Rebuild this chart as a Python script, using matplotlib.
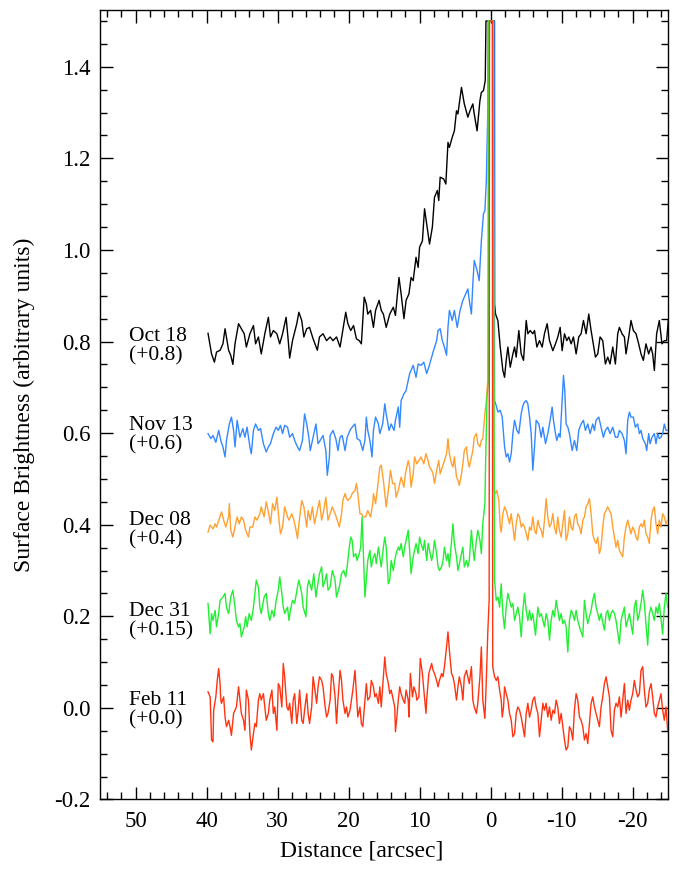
"""Surface-brightness profiles across the source, five epochs, offset vertically."""
import numpy as np
import matplotlib
matplotlib.use("Agg")
import matplotlib.pyplot as plt
from matplotlib.ticker import MultipleLocator

plt.rcParams["font.family"] = ["Liberation Serif", "DejaVu Serif"]
plt.rcParams["axes.unicode_minus"] = False

# (distance [arcsec], surface brightness incl. offset)
OCT18 = [(39.8, 0.818), (39.3, 0.773), (38.9, 0.755), (38.6, 0.777), (38.1, 0.781), (37.7, 0.795),
         (37.4, 0.828), (36.9, 0.781), (36.6, 0.770), (36.3, 0.750), (36.0, 0.795), (35.5, 0.839),
         (35.1, 0.828), (34.7, 0.817), (34.4, 0.788), (33.9, 0.817), (33.4, 0.835), (33.1, 0.795),
         (32.7, 0.810), (32.3, 0.773), (31.8, 0.817), (31.3, 0.853), (31.0, 0.810), (30.6, 0.824),
         (30.1, 0.817), (29.7, 0.795), (29.3, 0.817), (28.8, 0.853), (28.5, 0.802), (28.3, 0.764),
         (27.9, 0.802), (27.3, 0.839), (27.0, 0.864), (26.6, 0.846), (26.3, 0.810), (25.9, 0.828),
         (25.5, 0.831), (25.0, 0.806), (24.4, 0.781), (24.1, 0.810), (23.6, 0.817), (23.1, 0.802),
         (22.6, 0.810), (22.2, 0.802), (21.7, 0.810), (21.2, 0.788), (20.9, 0.817), (20.4, 0.864),
         (20.1, 0.839), (19.7, 0.824), (19.3, 0.835), (18.9, 0.806), (18.5, 0.802), (18.2, 0.795),
         (17.8, 0.897), (17.5, 0.882), (17.3, 0.860), (16.9, 0.868), (16.5, 0.831), (16.2, 0.868),
         (15.7, 0.890), (15.4, 0.868), (15.1, 0.860), (14.7, 0.831), (14.2, 0.860), (13.7, 0.875),
         (13.4, 0.857), (12.9, 0.940), (12.6, 0.904), (12.2, 0.850), (11.9, 0.890), (11.5, 0.904),
         (11.2, 0.940), (10.9, 0.933), (10.5, 0.984), (10.2, 0.962), (10.0, 1.006), (9.6, 1.020),
         (9.3, 1.090), (9.0, 1.057), (8.6, 1.013), (8.2, 1.050), (7.9, 1.115), (7.5, 1.130),
         (7.3, 1.108), (7.1, 1.159), (6.6, 1.155), (6.3, 1.144), (6.0, 1.235), (5.8, 1.224),
         (5.4, 1.246), (5.1, 1.260), (4.8, 1.304), (4.6, 1.297), (4.1, 1.355), (3.7, 1.319),
         (3.2, 1.290), (2.9, 1.304), (2.5, 1.319), (2.3, 1.297), (1.9, 1.260), (1.5, 1.326),
         (1.3, 1.344), (1.0, 1.348), (0.75, 1.370), (0.65, 1.5), (-0.55, 1.5), (-0.56, 0.882),
         (-0.70, 0.860), (-1.03, 0.846), (-1.36, 0.788), (-1.73, 0.737), (-1.97, 0.722), (-2.20, 0.759),
         (-2.44, 0.788), (-2.77, 0.744), (-3.14, 0.773), (-3.38, 0.788), (-3.61, 0.766), (-3.98, 0.824),
         (-4.31, 0.773), (-4.64, 0.759), (-5.02, 0.846), (-5.25, 0.817), (-5.58, 0.824), (-5.95, 0.817),
         (-6.19, 0.824), (-6.52, 0.788), (-6.89, 0.802), (-7.27, 0.788), (-7.59, 0.817), (-7.97, 0.839),
         (-8.30, 0.802), (-8.77, 0.780), (-9.14, 0.795), (-9.47, 0.810), (-9.80, 0.831), (-10.08, 0.780),
         (-10.41, 0.817), (-10.74, 0.802), (-11.02, 0.810), (-11.35, 0.795), (-11.67, 0.810),
         (-12.05, 0.773), (-12.42, 0.810), (-12.75, 0.817), (-13.08, 0.846), (-13.46, 0.817),
         (-13.83, 0.860), (-14.16, 0.824), (-14.39, 0.802), (-14.77, 0.766), (-15.10, 0.773),
         (-15.42, 0.810), (-15.80, 0.802), (-16.17, 0.751), (-16.50, 0.766), (-16.83, 0.751),
         (-17.21, 0.788), (-17.58, 0.751), (-17.91, 0.817), (-18.14, 0.831), (-18.52, 0.817),
         (-18.85, 0.810), (-19.08, 0.773), (-19.46, 0.810), (-19.78, 0.846), (-20.11, 0.824),
         (-20.49, 0.817), (-20.86, 0.795), (-21.19, 0.773), (-21.52, 0.759), (-21.89, 0.795),
         (-22.27, 0.773), (-22.60, 0.788), (-22.83, 0.773), (-23.07, 0.737), (-23.39, 0.817),
         (-23.77, 0.846), (-24.14, 0.795), (-24.47, 0.802), (-24.80, 0.802), (-25.03, 0.846)]

NOV13 = [(39.8, 0.599), (39.4, 0.588), (39.1, 0.595), (38.7, 0.580), (38.3, 0.606), (38.0, 0.584),
         (37.7, 0.570), (37.4, 0.548), (37.2, 0.584), (36.8, 0.620), (36.5, 0.635), (36.2, 0.606),
         (36.0, 0.570), (35.7, 0.628), (35.3, 0.591), (34.9, 0.610), (34.6, 0.591), (34.3, 0.613),
         (33.9, 0.570), (33.7, 0.555), (33.4, 0.606), (33.1, 0.620), (32.7, 0.606), (32.4, 0.610),
         (32.0, 0.577), (31.6, 0.559), (31.3, 0.570), (31.0, 0.577), (30.6, 0.599), (30.2, 0.613),
         (29.9, 0.606), (29.6, 0.617), (29.3, 0.599), (29.0, 0.617), (28.6, 0.613), (28.3, 0.591),
         (27.9, 0.599), (27.6, 0.584), (27.2, 0.570), (26.9, 0.562), (26.5, 0.584), (26.2, 0.642),
         (25.9, 0.620), (25.6, 0.591), (25.4, 0.562), (25.0, 0.591), (24.6, 0.620), (24.3, 0.577),
         (24.0, 0.584), (23.6, 0.595), (23.2, 0.562), (23.0, 0.508), (22.7, 0.548), (22.6, 0.595),
         (22.2, 0.606), (21.8, 0.588), (21.5, 0.562), (21.2, 0.591), (20.9, 0.595), (20.5, 0.562),
         (20.2, 0.591), (19.8, 0.606), (19.5, 0.613), (19.1, 0.620), (18.8, 0.588), (18.4, 0.584),
         (18.0, 0.562), (17.7, 0.584), (17.5, 0.635), (17.3, 0.606), (17.0, 0.584), (16.7, 0.548),
         (16.5, 0.606), (16.2, 0.635), (15.8, 0.620), (15.6, 0.599), (15.2, 0.620), (14.9, 0.664),
         (14.7, 0.642), (14.3, 0.606), (14.0, 0.620), (13.6, 0.606), (13.4, 0.628), (13.0, 0.657),
         (12.8, 0.613), (12.6, 0.671), (12.2, 0.686), (11.9, 0.693), (11.6, 0.715), (11.4, 0.730),
         (10.9, 0.748), (10.5, 0.722), (10.2, 0.751), (9.8, 0.748), (9.4, 0.755), (9.0, 0.730),
         (8.7, 0.744), (8.3, 0.766), (8.1, 0.777), (7.6, 0.802), (7.4, 0.824), (7.1, 0.828),
         (6.8, 0.802), (6.5, 0.788), (6.2, 0.770), (6.0, 0.831), (5.8, 0.868), (5.4, 0.846),
         (5.1, 0.868), (4.7, 0.831), (4.5, 0.850), (4.3, 0.868), (3.9, 0.890), (3.5, 0.904),
         (3.2, 0.915), (3.0, 0.890), (2.7, 0.860), (2.5, 0.926), (2.3, 0.977), (1.9, 0.955),
         (1.6, 0.933), (1.3, 1.020), (1.0, 1.079), (0.8, 1.086), (0.6, 1.151), (0.4, 1.297),
         (0.35, 1.5), (-0.5, 1.5), (-0.56, 0.671), (-0.80, 0.660), (-1.03, 0.646), (-1.36, 0.650),
         (-1.64, 0.635), (-1.97, 0.570), (-2.20, 0.548), (-2.44, 0.555), (-2.67, 0.537), (-2.91, 0.555),
         (-3.14, 0.599), (-3.38, 0.628), (-3.70, 0.606), (-3.98, 0.599), (-4.31, 0.642), (-4.55, 0.660),
         (-4.78, 0.668), (-5.02, 0.671), (-5.25, 0.664), (-5.49, 0.635), (-5.72, 0.599), (-5.95, 0.519),
         (-6.19, 0.570), (-6.42, 0.628), (-6.80, 0.620), (-7.13, 0.591), (-7.36, 0.613), (-7.74, 0.577),
         (-8.06, 0.599), (-8.39, 0.628), (-8.67, 0.657), (-8.86, 0.628), (-9.14, 0.599), (-9.33, 0.584),
         (-9.61, 0.599), (-9.80, 0.591), (-10.08, 0.671), (-10.27, 0.726), (-10.45, 0.693),
         (-10.64, 0.620), (-10.88, 0.613), (-11.11, 0.599), (-11.49, 0.562), (-11.81, 0.584),
         (-12.14, 0.562), (-12.42, 0.606), (-12.75, 0.620), (-13.08, 0.628), (-13.36, 0.606),
         (-13.69, 0.620), (-14.02, 0.599), (-14.39, 0.620), (-14.63, 0.606), (-14.86, 0.628),
         (-15.24, 0.635), (-15.56, 0.613), (-15.89, 0.591), (-16.17, 0.606), (-16.50, 0.613),
         (-16.83, 0.599), (-17.21, 0.613), (-17.58, 0.591), (-17.91, 0.591), (-18.14, 0.606),
         (-18.52, 0.599), (-18.85, 0.584), (-19.08, 0.555), (-19.32, 0.628), (-19.55, 0.646),
         (-19.78, 0.635), (-20.11, 0.635), (-20.39, 0.613), (-20.72, 0.620), (-20.96, 0.599),
         (-21.19, 0.606), (-21.43, 0.588), (-21.80, 0.577), (-21.99, 0.562), (-22.27, 0.599),
         (-22.46, 0.577), (-22.74, 0.591), (-23.07, 0.599), (-23.30, 0.577), (-23.54, 0.599),
         (-23.77, 0.588), (-24.00, 0.591), (-24.24, 0.599), (-24.47, 0.620), (-24.71, 0.606),
         (-24.94, 0.606)]

DEC08 = [(39.8, 0.384), (39.5, 0.399), (39.1, 0.391), (38.8, 0.402), (38.6, 0.395), (38.2, 0.413),
         (37.9, 0.428), (37.6, 0.410), (37.3, 0.395), (36.9, 0.417), (36.8, 0.446), (36.6, 0.388),
         (36.3, 0.373), (36.0, 0.395), (35.7, 0.417), (35.4, 0.402), (35.1, 0.417), (34.8, 0.410),
         (34.5, 0.388), (34.1, 0.373), (33.9, 0.395), (33.5, 0.395), (33.2, 0.417), (32.9, 0.410),
         (32.5, 0.424), (32.3, 0.439), (31.9, 0.417), (31.6, 0.450), (31.3, 0.428), (31.0, 0.402),
         (30.7, 0.446), (30.4, 0.431), (30.1, 0.460), (29.8, 0.410), (29.6, 0.380), (29.3, 0.395),
         (29.0, 0.439), (28.6, 0.417), (28.4, 0.410), (28.0, 0.424), (27.7, 0.410), (27.4, 0.388),
         (27.2, 0.370), (27.0, 0.402), (26.6, 0.453), (26.3, 0.439), (25.9, 0.395), (25.7, 0.431),
         (25.4, 0.410), (25.1, 0.439), (24.8, 0.402), (24.5, 0.424), (24.1, 0.453), (23.8, 0.410),
         (23.5, 0.431), (23.2, 0.460), (22.9, 0.410), (22.6, 0.424), (22.3, 0.439), (21.9, 0.424),
         (21.6, 0.410), (21.3, 0.395), (21.0, 0.424), (20.8, 0.453), (20.5, 0.468), (20.3, 0.457),
         (20.1, 0.453), (19.7, 0.460), (19.5, 0.468), (19.1, 0.475), (18.9, 0.490), (18.7, 0.468),
         (18.4, 0.424), (18.2, 0.424), (17.9, 0.417), (17.6, 0.417), (17.3, 0.431), (16.9, 0.417),
         (16.6, 0.446), (16.5, 0.468), (16.2, 0.446), (15.8, 0.497), (15.6, 0.526), (15.4, 0.530),
         (15.1, 0.497), (14.9, 0.468), (14.7, 0.439), (14.4, 0.475), (14.1, 0.519), (13.8, 0.490),
         (13.5, 0.490), (13.3, 0.460), (13.0, 0.475), (12.8, 0.490), (12.6, 0.504), (12.2, 0.482),
         (12.0, 0.511), (11.6, 0.540), (11.4, 0.526), (11.2, 0.482), (10.9, 0.511), (10.7, 0.548),
         (10.4, 0.533), (10.1, 0.540), (9.8, 0.548), (9.4, 0.533), (9.1, 0.555), (8.8, 0.540),
         (8.6, 0.526), (8.3, 0.519), (8.1, 0.511), (7.9, 0.490), (7.5, 0.526), (7.3, 0.540),
         (7.1, 0.511), (6.8, 0.526), (6.5, 0.540), (6.2, 0.555), (6.0, 0.588), (5.8, 0.555),
         (5.5, 0.533), (5.3, 0.526), (5.1, 0.548), (4.8, 0.504), (4.6, 0.497), (4.4, 0.486),
         (4.1, 0.511), (3.9, 0.533), (3.7, 0.562), (3.4, 0.570), (3.2, 0.540), (3.0, 0.526),
         (2.7, 0.548), (2.5, 0.562), (2.3, 0.591), (2.0, 0.599), (1.8, 0.577), (1.5, 0.570),
         (1.3, 0.584), (1.1, 0.588), (0.8, 0.642), (0.6, 0.671), (0.4, 0.715), (0.3, 1.5),
         (-0.35, 1.5), (-0.5, 0.475), (-0.70, 0.468), (-0.89, 0.475), (-1.17, 0.453), (-1.36, 0.395),
         (-1.50, 0.384), (-1.73, 0.424), (-1.97, 0.439), (-2.20, 0.431), (-2.44, 0.417), (-2.67, 0.402),
         (-2.91, 0.424), (-3.14, 0.395), (-3.38, 0.366), (-3.61, 0.402), (-3.84, 0.424), (-4.08, 0.417),
         (-4.31, 0.395), (-4.55, 0.402), (-4.78, 0.395), (-5.02, 0.380), (-5.25, 0.366), (-5.49, 0.395),
         (-5.72, 0.388), (-5.95, 0.417), (-6.19, 0.388), (-6.42, 0.380), (-6.66, 0.410), (-6.89, 0.395),
         (-7.13, 0.388), (-7.36, 0.373), (-7.59, 0.410), (-7.83, 0.457), (-8.06, 0.417), (-8.30, 0.395),
         (-8.53, 0.402), (-8.77, 0.424), (-9.00, 0.395), (-9.24, 0.380), (-9.47, 0.417), (-9.70, 0.388),
         (-9.94, 0.373), (-10.17, 0.402), (-10.41, 0.431), (-10.64, 0.366), (-10.88, 0.380),
         (-11.11, 0.417), (-11.35, 0.395), (-11.58, 0.388), (-11.81, 0.417), (-12.05, 0.424),
         (-12.28, 0.402), (-12.52, 0.395), (-12.75, 0.380), (-12.99, 0.410), (-13.22, 0.417),
         (-13.46, 0.439), (-13.69, 0.446), (-13.92, 0.457), (-14.16, 0.424), (-14.39, 0.380),
         (-14.63, 0.366), (-14.86, 0.359), (-15.10, 0.373), (-15.33, 0.337), (-15.56, 0.351),
         (-15.80, 0.395), (-16.03, 0.424), (-16.27, 0.431), (-16.50, 0.439), (-16.74, 0.431),
         (-16.97, 0.424), (-17.21, 0.395), (-17.44, 0.373), (-17.67, 0.351), (-17.91, 0.366),
         (-18.14, 0.344), (-18.38, 0.337), (-18.61, 0.330), (-18.85, 0.373), (-19.08, 0.395),
         (-19.32, 0.410), (-19.55, 0.395), (-19.78, 0.380), (-20.02, 0.395), (-20.25, 0.388),
         (-20.49, 0.373), (-20.72, 0.366), (-20.96, 0.395), (-21.19, 0.402), (-21.43, 0.395),
         (-21.66, 0.410), (-21.89, 0.380), (-22.13, 0.373), (-22.36, 0.359), (-22.60, 0.410),
         (-22.83, 0.431), (-23.07, 0.439), (-23.30, 0.402), (-23.54, 0.380), (-23.77, 0.410),
         (-24.00, 0.395), (-24.24, 0.424), (-24.47, 0.417), (-24.71, 0.402), (-24.94, 0.410)]

DEC31 = [(39.8, 0.228), (39.5, 0.162), (39.3, 0.206), (39.1, 0.191), (38.8, 0.213), (38.6, 0.177),
         (38.3, 0.206), (38.1, 0.235), (37.7, 0.242), (37.4, 0.250), (37.2, 0.220), (36.9, 0.206),
         (36.6, 0.242), (36.3, 0.257), (36.0, 0.220), (35.8, 0.191), (35.5, 0.177), (35.3, 0.184),
         (35.1, 0.155), (34.7, 0.177), (34.5, 0.199), (34.3, 0.177), (34.0, 0.206), (33.7, 0.191),
         (33.4, 0.220), (33.2, 0.250), (33.0, 0.279), (32.7, 0.264), (32.5, 0.220), (32.3, 0.206),
         (31.9, 0.242), (31.6, 0.250), (31.3, 0.206), (31.1, 0.191), (30.8, 0.213), (30.5, 0.199),
         (30.2, 0.235), (29.9, 0.257), (29.7, 0.286), (29.4, 0.250), (29.2, 0.220), (29.0, 0.206),
         (28.6, 0.220), (28.4, 0.191), (28.2, 0.213), (27.9, 0.235), (27.6, 0.228), (27.2, 0.264),
         (27.0, 0.279), (26.6, 0.250), (26.4, 0.220), (26.0, 0.199), (25.8, 0.264), (25.6, 0.279),
         (25.2, 0.257), (24.9, 0.293), (24.6, 0.242), (24.4, 0.264), (24.1, 0.293), (23.8, 0.308),
         (23.6, 0.264), (23.3, 0.279), (23.1, 0.293), (22.9, 0.257), (22.6, 0.264), (22.3, 0.300),
         (21.9, 0.279), (21.7, 0.242), (21.3, 0.264), (21.0, 0.293), (20.7, 0.300), (20.4, 0.286),
         (20.2, 0.308), (19.9, 0.351), (19.7, 0.373), (19.5, 0.366), (19.3, 0.330), (19.0, 0.337),
         (18.8, 0.322), (18.5, 0.337), (18.3, 0.351), (18.1, 0.417), (18.0, 0.373), (17.7, 0.242),
         (17.5, 0.279), (17.3, 0.322), (17.0, 0.344), (16.8, 0.308), (16.5, 0.330), (16.3, 0.337),
         (16.1, 0.315), (15.8, 0.351), (15.6, 0.330), (15.4, 0.308), (15.1, 0.351), (14.9, 0.373),
         (14.7, 0.351), (14.4, 0.271), (14.2, 0.279), (14.0, 0.322), (13.7, 0.300), (13.5, 0.322),
         (13.3, 0.337), (13.0, 0.351), (12.8, 0.344), (12.6, 0.359), (12.3, 0.330), (12.1, 0.351),
         (11.9, 0.366), (11.6, 0.388), (11.4, 0.344), (11.2, 0.293), (10.9, 0.330), (10.7, 0.344),
         (10.5, 0.359), (10.2, 0.337), (10.0, 0.373), (9.8, 0.359), (9.5, 0.344), (9.3, 0.366),
         (9.0, 0.322), (8.8, 0.359), (8.6, 0.344), (8.3, 0.322), (8.1, 0.337), (7.9, 0.366),
         (7.6, 0.337), (7.4, 0.308), (7.2, 0.300), (6.9, 0.308), (6.7, 0.322), (6.5, 0.351),
         (6.2, 0.322), (6.0, 0.337), (5.8, 0.308), (5.5, 0.366), (5.3, 0.402), (5.1, 0.359),
         (4.8, 0.330), (4.6, 0.300), (4.4, 0.315), (4.1, 0.337), (3.9, 0.351), (3.7, 0.308),
         (3.4, 0.322), (3.2, 0.308), (3.0, 0.322), (2.7, 0.388), (2.5, 0.351), (2.3, 0.322),
         (2.0, 0.366), (1.8, 0.388), (1.5, 0.366), (1.3, 0.337), (1.1, 0.402), (0.8, 0.446),
         (0.7, 0.533), (0.6, 0.606), (0.5, 0.679), (0.3, 0.715), (0.25, 1.5), (-0.3, 1.5),
         (-0.56, 0.279), (-0.80, 0.235), (-1.03, 0.242), (-1.27, 0.220), (-1.50, 0.271), (-1.73, 0.206),
         (-1.97, 0.173), (-2.20, 0.220), (-2.44, 0.250), (-2.67, 0.235), (-2.91, 0.220), (-3.14, 0.228),
         (-3.38, 0.191), (-3.61, 0.206), (-3.84, 0.220), (-4.08, 0.199), (-4.31, 0.155), (-4.55, 0.213),
         (-4.78, 0.250), (-5.02, 0.213), (-5.25, 0.191), (-5.49, 0.213), (-5.72, 0.191), (-5.95, 0.206),
         (-6.33, 0.159), (-6.66, 0.220), (-6.89, 0.199), (-7.13, 0.206), (-7.36, 0.191), (-7.59, 0.177),
         (-7.83, 0.206), (-8.06, 0.191), (-8.30, 0.148), (-8.53, 0.191), (-8.77, 0.213), (-9.00, 0.199),
         (-9.24, 0.235), (-9.47, 0.213), (-9.70, 0.191), (-9.94, 0.206), (-10.17, 0.184), (-10.41, 0.191),
         (-10.64, 0.177), (-10.88, 0.122), (-11.11, 0.191), (-11.35, 0.213), (-11.58, 0.206),
         (-11.81, 0.191), (-12.05, 0.213), (-12.28, 0.191), (-12.52, 0.177), (-12.99, 0.155),
         (-13.22, 0.235), (-13.46, 0.206), (-13.69, 0.184), (-13.92, 0.199), (-14.16, 0.213),
         (-14.39, 0.235), (-14.63, 0.250), (-14.86, 0.220), (-15.10, 0.206), (-15.33, 0.191),
         (-15.56, 0.206), (-16.03, 0.170), (-16.27, 0.206), (-16.50, 0.213), (-16.74, 0.191),
         (-16.97, 0.206), (-17.21, 0.213), (-17.44, 0.206), (-17.67, 0.191), (-18.14, 0.140),
         (-18.38, 0.191), (-18.61, 0.206), (-18.85, 0.220), (-19.08, 0.177), (-19.32, 0.191),
         (-19.55, 0.206), (-20.02, 0.161), (-20.25, 0.220), (-20.49, 0.235), (-20.72, 0.191),
         (-20.96, 0.206), (-21.19, 0.228), (-21.43, 0.257), (-21.66, 0.228), (-22.13, 0.137),
         (-22.36, 0.206), (-22.60, 0.220), (-22.83, 0.206), (-23.07, 0.191), (-23.30, 0.220),
         (-23.54, 0.206), (-23.77, 0.228), (-24.24, 0.161), (-24.47, 0.220), (-24.71, 0.250),
         (-24.94, 0.220)]

FEB11 = [(39.8, 0.035), (39.5, 0.024), (39.3, -0.070), (39.1, -0.074), (39.0, -0.005), (38.7, 0.024),
         (38.5, 0.060), (38.3, 0.086), (38.1, 0.053), (38.0, 0.017), (37.9, 0.010), (37.6, 0.024),
         (37.4, -0.020), (37.2, -0.041), (36.9, -0.027), (36.7, -0.041), (36.5, -0.060), (36.2, -0.012),
         (36.0, -0.005), (35.8, 0.002), (35.5, 0.046), (35.3, 0.017), (35.1, -0.012), (34.8, -0.027),
         (34.6, -0.049), (34.4, 0.039), (34.1, 0.017), (33.9, -0.056), (33.7, -0.092), (33.4, -0.056),
         (33.2, -0.034), (33.0, -0.041), (32.7, 0.017), (32.5, 0.031), (32.3, 0.017), (32.0, 0.031),
         (31.8, 0.002), (31.6, -0.027), (31.3, -0.012), (31.1, 0.017), (30.8, 0.039), (30.6, -0.012),
         (30.4, 0.002), (30.1, -0.049), (29.9, 0.053), (29.7, 0.046), (29.4, 0.002), (29.2, 0.097),
         (29.0, 0.068), (28.7, 0.002), (28.5, -0.005), (28.3, 0.010), (28.0, -0.034), (27.8, 0.017),
         (27.6, 0.031), (27.3, -0.034), (27.1, -0.005), (26.9, 0.039), (26.6, -0.027), (26.4, -0.034),
         (26.2, -0.005), (25.9, 0.031), (25.7, -0.012), (25.5, -0.034), (25.2, 0.002), (25.0, 0.068),
         (24.8, 0.046), (24.5, 0.010), (24.3, 0.046), (24.1, 0.068), (23.8, 0.060), (23.6, 0.046),
         (23.3, 0.002), (23.1, -0.020), (22.9, -0.012), (22.6, 0.017), (22.4, 0.075), (22.2, 0.068),
         (21.9, 0.024), (21.7, -0.034), (21.5, 0.017), (21.2, 0.082), (21.0, 0.060), (20.8, 0.017),
         (20.5, -0.012), (20.3, 0.002), (20.1, -0.020), (19.8, -0.005), (19.6, 0.017), (19.4, 0.039),
         (19.1, 0.082), (18.9, 0.031), (18.7, -0.020), (18.4, 0.002), (18.2, -0.034), (18.0, -0.041),
         (17.7, 0.017), (17.5, 0.053), (17.3, 0.017), (17.0, 0.024), (16.8, 0.060), (16.5, 0.046),
         (16.3, 0.024), (16.1, 0.031), (15.8, 0.010), (15.6, 0.046), (15.4, 0.002), (15.1, 0.068),
         (14.9, 0.111), (14.7, 0.075), (14.4, 0.053), (14.2, 0.031), (14.0, 0.039), (13.7, 0.017),
         (13.5, 0.002), (13.4, -0.052), (13.2, -0.020), (13.0, 0.017), (12.8, 0.046), (12.6, 0.031),
         (12.3, 0.017), (12.1, 0.010), (11.9, 0.039), (11.6, 0.017), (11.5, -0.020), (11.3, 0.075),
         (11.0, 0.024), (10.8, 0.046), (10.5, 0.031), (10.4, 0.017), (10.1, 0.024), (9.9, 0.108),
         (9.6, 0.075), (9.4, 0.039), (9.1, -0.012), (9.0, 0.017), (8.7, 0.075), (8.3, 0.097),
         (8.1, 0.082), (7.9, 0.075), (7.6, 0.060), (7.4, 0.046), (7.2, 0.060), (6.9, 0.075),
         (6.7, 0.068), (6.5, 0.090), (6.2, 0.133), (6.0, 0.166), (5.8, 0.126), (5.5, 0.075),
         (5.3, 0.068), (5.1, 0.053), (4.8, 0.017), (4.6, 0.046), (4.4, 0.068), (4.1, 0.046),
         (3.9, 0.017), (3.7, 0.068), (3.4, 0.082), (3.2, 0.068), (3.0, 0.053), (2.7, 0.090),
         (2.5, 0.017), (2.3, 0.002), (2.0, -0.012), (1.8, 0.010), (1.5, 0.068), (1.3, 0.133),
         (1.1, 0.017), (0.8, -0.023), (0.6, 0.060), (0.4, 0.162), (0.2, 0.235), (0.15, 1.5),
         (-0.25, 1.5), (-0.3, 0.09), (-0.56, 0.068), (-0.80, 0.060), (-1.03, 0.068), (-1.27, 0.039),
         (-1.50, 0.017), (-1.64, -0.020), (-1.83, 0.002), (-1.97, 0.046), (-2.20, 0.031), (-2.44, 0.017),
         (-2.67, -0.012), (-2.91, -0.027), (-3.14, -0.063), (-3.38, -0.056), (-3.61, -0.012),
         (-3.84, 0.002), (-4.08, -0.005), (-4.31, -0.020), (-4.55, -0.041), (-4.78, -0.063),
         (-5.02, -0.012), (-5.25, 0.010), (-5.49, -0.020), (-5.72, -0.005), (-5.95, 0.017),
         (-6.19, 0.024), (-6.42, 0.002), (-6.66, -0.012), (-6.89, -0.063), (-7.13, -0.027),
         (-7.36, 0.010), (-7.59, -0.005), (-7.83, 0.010), (-8.06, -0.020), (-8.30, 0.002),
         (-8.53, -0.027), (-8.77, -0.005), (-9.00, -0.012), (-9.24, 0.017), (-9.47, 0.002),
         (-9.70, -0.034), (-9.94, -0.012), (-10.17, -0.041), (-10.41, -0.070), (-10.64, -0.092),
         (-10.88, -0.085), (-11.11, -0.041), (-11.35, -0.049), (-11.58, -0.070), (-11.81, -0.005),
         (-12.05, 0.031), (-12.28, 0.017), (-12.52, -0.020), (-12.75, -0.027), (-12.99, -0.041),
         (-13.22, -0.070), (-13.46, -0.056), (-13.69, -0.078), (-13.92, -0.034), (-14.16, 0.010),
         (-14.39, 0.024), (-14.63, 0.002), (-14.86, -0.012), (-15.10, -0.027), (-15.33, -0.041),
         (-15.56, 0.002), (-15.80, 0.024), (-16.03, 0.053), (-16.27, 0.068), (-16.50, 0.046),
         (-16.74, 0.024), (-16.97, -0.049), (-17.21, -0.063), (-17.44, -0.005), (-17.67, 0.010),
         (-17.91, 0.002), (-18.14, 0.024), (-18.38, -0.020), (-18.61, 0.017), (-18.85, 0.053),
         (-19.08, -0.012), (-19.32, 0.017), (-19.55, -0.005), (-19.78, 0.017), (-20.02, 0.031),
         (-20.25, 0.060), (-20.49, 0.039), (-20.72, 0.024), (-20.96, 0.031), (-21.19, 0.082),
         (-21.43, 0.090), (-21.66, 0.039), (-21.89, 0.002), (-22.13, 0.010), (-22.36, 0.039),
         (-22.60, 0.053), (-22.83, 0.024), (-23.07, -0.012), (-23.30, -0.020), (-23.54, 0.002),
         (-23.77, 0.017), (-24.00, 0.031), (-24.24, -0.005), (-24.47, -0.027), (-24.71, 0.002),
         (-24.94, -0.049)]

EPOCHS = ["Oct 18", "Nov 13", "Dec 08", "Dec 31", "Feb 11"]
OFFSETS = ["+0.8", "+0.6", "+0.4", "+0.15", "+0.0"]
PROFILES = [OCT18, NOV13, DEC08, DEC31, FEB11]
COLORS = ["#000000", "#3388ff", "#ffa030", "#22ee33", "#ff3311"]
LABEL_Y = [0.79, 0.595, 0.388, 0.189, -0.005]

fig = plt.figure(figsize=(6.81, 8.69), dpi=100)
ax = fig.add_axes([0.147, 0.080, 0.834, 0.909])

for prof, col in zip(PROFILES, COLORS):
    d, sb = np.array(prof).T
    ax.plot(d, sb, color=col, lw=1.0, zorder=3)

for name, off, ly in zip(EPOCHS, OFFSETS, LABEL_Y):
    ax.text(50.9, ly, f"{name}\n({off})", ha="left", va="center",
            fontsize=15.5, linespacing=0.98)

ax.set_xlim(55, -25)
ax.set_ylim(-0.2, 1.525)
ax.xaxis.set_major_locator(MultipleLocator(10))
ax.xaxis.set_minor_locator(MultipleLocator(2))
ax.yaxis.set_major_locator(MultipleLocator(0.2))
ax.yaxis.set_minor_locator(MultipleLocator(0.05))
ax.yaxis.set_major_formatter(plt.FuncFormatter(lambda v, p: f"{v:.1f}"))
ax.tick_params(which="both", direction="in", top=True, right=True, labelsize=16.5)
ax.tick_params(which="major", length=9, width=1.0)
ax.tick_params(which="minor", length=5, width=1.0)
ax.tick_params(axis="x", pad=8)
ax.tick_params(axis="y", pad=7)
for sp in ax.spines.values():
    sp.set_linewidth(1.0)

ax.set_xlabel("Distance [arcsec]", fontsize=17)
ax.set_ylabel("Surface Brightness (arbitrary units)", fontsize=17)
ax.xaxis.set_label_coords(0.461, -0.052)
ax.yaxis.set_label_coords(-0.114, 0.5)

fig.savefig("out.png", dpi=100)
